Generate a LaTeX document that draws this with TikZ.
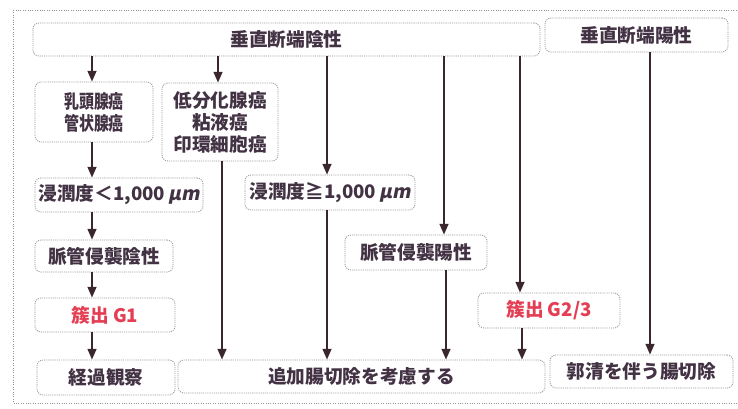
\documentclass[tikz,border=0pt]{standalone}
\usepackage{fontspec}
\newfontfamily\jp{Noto Sans CJK JP}
\newfontfamily\jpsl{Noto Sans CJK JP}[FakeSlant=0.2]
\usetikzlibrary{arrows.meta}
\definecolor{linecol}{RGB}{58,38,46}
\definecolor{boxcol}{RGB}{150,148,150}
\definecolor{txtcol}{RGB}{66,50,68}
\definecolor{redcol}{RGB}{228,62,84}
\tikzset{
  box/.style={draw=boxcol, line width=0.6pt, dash pattern=on 0.8pt off 0.8pt,
    rounded corners=4.5pt, inner sep=0pt, align=center, text=txtcol,
    font=\jp\bfseries\fontsize{14}{16.5}\selectfont},
  redtext/.style={text=redcol},
  arr/.style={draw=linecol, line width=1.5pt,
    -{Triangle[length=8pt,width=6.5pt]}},
}
\newcommand{\um}{{\jpsl\bfseries μm}}
\begin{document}
\begin{tikzpicture}[x=0.75pt,y=-0.75pt]
\useasboundingbox (0,0) rectangle (738,408);
\fill[white] (0,0) rectangle (738,408);
% outer frame
\draw[boxcol, line width=0.6pt, dash pattern=on 0.8pt off 1pt] (13,10) rectangle (745,403);

% boxes
\node[box, minimum width=380.25pt, minimum height=24.75pt] (top1) at (286.5,39.5) {垂直断端陰性};
\node[box, minimum width=137.25pt, minimum height=25.5pt] (top2) at (636.5,35) {垂直断端陽性};
\node[box, minimum width=88.5pt, minimum height=45pt] (ku) at (94,112) {\scalebox{0.8}[1]{乳頭腺癌}\\\scalebox{0.8}[1]{管状腺癌}};
\node[box, minimum width=87pt, minimum height=58.5pt] (tei) at (220,122) {低分化腺癌\\粘液癌\\印環細胞癌};
\node[box, minimum width=126pt, minimum height=25.5pt] (shin1) at (119,195) {浸潤度＜1,000\,\um};
\node[box, minimum width=127.5pt, minimum height=26.25pt] (shin2) at (330,192.5) {浸潤度≧1,000\,\um};
\node[box, minimum width=103.5pt, minimum height=24pt] (my1) at (104,256) {脈管侵襲陰性};
\node[box, minimum width=106.5pt, minimum height=26.25pt] (my2) at (416,252.5) {脈管侵襲陽性};
\node[box, redtext, minimum width=105pt, minimum height=25.5pt] (g1) at (105,315) {簇出 G1};
\node[box, redtext, minimum width=106.5pt, minimum height=26.25pt] (g23) at (549,310.5) {簇出 G2/3};
\node[box, minimum width=103.5pt, minimum height=26.25pt] (keika) at (106,377.5) {経過観察};
\node[box, minimum width=275.25pt, minimum height=24.75pt] (tsuika) at (361.5,376.5) {追加腸切除を考慮する};
\node[box, minimum width=137.25pt, minimum height=24.75pt] (kaku) at (641.5,371.5) {郭清を伴う腸切除};

% connector columns
\coordinate (c92) at (92,0);
\coordinate (c218) at (218,0);
\coordinate (c222) at (222,0);
\coordinate (c327) at (327,0);
\coordinate (c444) at (444,0);
\coordinate (c446) at (446,0);
\coordinate (c520) at (520,0);
\coordinate (c522) at (522,0);
\coordinate (c650) at (650,0);

% connectors
\draw[arr] (top1.south -| c92) -- (ku.north -| c92);
\draw[arr] (top1.south -| c218) -- (tei.north -| c218);
\draw[arr] (top1.south -| c327) -- (shin2.north -| c327);
\draw[arr] (top1.south -| c444) -- (my2.north -| c444);
\draw[arr] (top1.south -| c520) -- (g23.north -| c520);
\draw[arr] (top2.south -| c650) -- (kaku.north -| c650);
\draw[arr] (ku.south -| c92) -- (shin1.north -| c92);
\draw[arr] (shin1.south -| c92) -- (my1.north -| c92);
\draw[arr] (my1.south -| c92) -- (g1.north -| c92);
\draw[arr] (g1.south -| c92) -- (keika.north -| c92);
\draw[arr] (tei.south -| c222) -- (tsuika.north -| c222);
\draw[arr] (shin2.south -| c327) -- (tsuika.north -| c327);
\draw[arr] (my2.south -| c446) -- (tsuika.north -| c446);
\draw[arr] (g23.south -| c522) -- (tsuika.north -| c522);
\end{tikzpicture}
\end{document}
